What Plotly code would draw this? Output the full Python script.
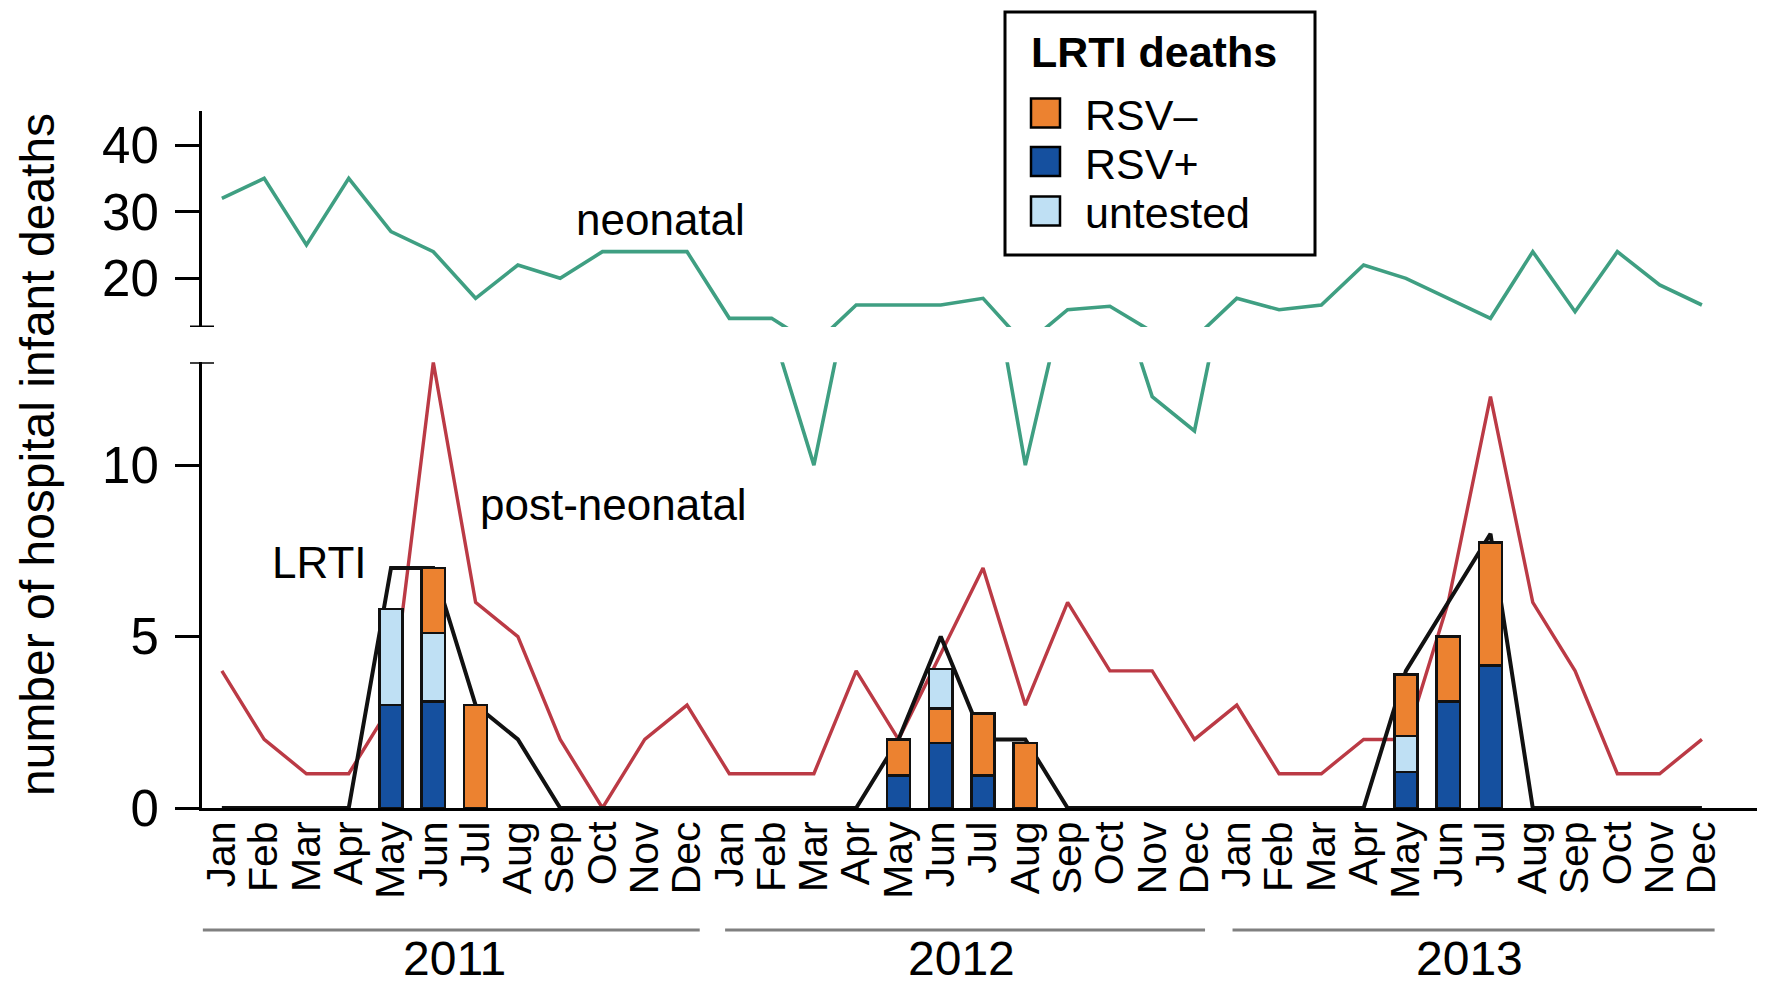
import plotly.graph_objects as go

# monthly data, Jan 2011 .. Dec 2013
month_names = ["Jan", "Feb", "Mar", "Apr", "May", "Jun",
               "Jul", "Aug", "Sep", "Oct", "Nov", "Dec"]
years = [2011, 2012, 2013]

neonatal = [32, 35, 25, 35, 27, 24, 17, 22, 20, 24, 24, 24,
            14, 14, 10, 16, 16, 16, 17, 10, 15.3, 15.8, 12, 11,
            17, 15.3, 16, 22, 20, 17, 14, 24, 15, 24, 19, 16]

post_neonatal = [4, 2, 1, 1, 3, 13, 6, 5, 2, 0, 2, 3,
                 1, 1, 1, 4, 2, 4.5, 7, 3, 6, 4, 4, 2,
                 3, 1, 1, 2, 2, 6, 12, 6, 4, 1, 1, 2]

lrti = [0, 0, 0, 0, 7, 7, 3, 2, 0, 0, 0, 0,
        0, 0, 0, 0, 2, 5, 2, 2, 0, 0, 0, 0,
        0, 0, 0, 0, 4, 6, 8, 0, 0, 0, 0, 0]

# stacked LRTI death bars
rsv_pos = [0, 0, 0, 0, 3.0, 3.1, 0, 0, 0, 0, 0, 0,
           0, 0, 0, 0, 0.95, 1.9, 0.95, 0, 0, 0, 0, 0,
           0, 0, 0, 0, 1.05, 3.1, 4.15, 0, 0, 0, 0, 0]
untested = [0, 0, 0, 0, 2.8, 2.0, 0, 0, 0, 0, 0, 0,
            0, 0, 0, 0, 0, 0, 0, 0, 0, 0, 0, 0,
            0, 0, 0, 0, 1.05, 0, 0, 0, 0, 0, 0, 0]
rsv_neg = [0, 0, 0, 0, 0, 1.9, 3.0, 0, 0, 0, 0, 0,
           0, 0, 0, 0, 1.05, 1.0, 1.8, 1.9, 0, 0, 0, 0,
           0, 0, 0, 0, 1.8, 1.9, 3.6, 0, 0, 0, 0, 0]
untested_top = [0, 0, 0, 0, 0, 0, 0, 0, 0, 0, 0, 0,
                0, 0, 0, 0, 0, 1.15, 0, 0, 0, 0, 0, 0,
                0, 0, 0, 0, 0, 0, 0, 0, 0, 0, 0, 0]

x = list(range(len(neonatal)))
month_labels = month_names * len(years)

GREEN = "#3f9f82"
RED = "#bb3a45"
BLACK = "#111111"
ORANGE = "#ec8230"
DARK_BLUE = "#15509f"
LIGHT_BLUE = "#bfe0f4"
FONT = "Liberation Sans, Arial, sans-serif"

# page geometry (pixels)
W, H = 1765, 987
ML, MR, MT, MB = 194, 3, 103, 187
PW = W - ML - MR
PH = H - MT - MB


def px_x(px):
    return (px - ML) / PW


def px_y(py):
    return (H - MB - py) / PH


def nz(vals):
    return [v if v else None for v in vals]


fig = go.Figure()

# lines (lower panel)
fig.add_trace(go.Scatter(x=x, y=post_neonatal, mode="lines",
                         line=dict(color=RED, width=3.4), xaxis="x", yaxis="y"))
fig.add_trace(go.Scatter(x=x, y=neonatal, mode="lines",
                         line=dict(color=GREEN, width=3.6), xaxis="x", yaxis="y"))
fig.add_trace(go.Scatter(x=x, y=lrti, mode="lines",
                         line=dict(color=BLACK, width=4), xaxis="x", yaxis="y"))
# neonatal in the upper (broken) panel
fig.add_trace(go.Scatter(x=x, y=neonatal, mode="lines",
                         line=dict(color=GREEN, width=3.6), xaxis="x", yaxis="y2"))

# bars on an overlaying axis so they sit above the lines
bar_line = dict(color=BLACK, width=2.5)
for vals, col in [(rsv_pos, DARK_BLUE), (untested, LIGHT_BLUE),
                  (rsv_neg, ORANGE), (untested_top, LIGHT_BLUE)]:
    fig.add_trace(go.Bar(x=x, y=nz(vals), width=0.55,
                         marker=dict(color=col, line=bar_line),
                         xaxis="x", yaxis="y3"))

fig.update_layout(
    width=W, height=H,
    margin=dict(l=ML, r=MR, t=MT, b=MB),
    paper_bgcolor="white", plot_bgcolor="white",
    barmode="stack", showlegend=False,
    font=dict(family=FONT, color="black"),
    xaxis=dict(range=[-0.47, 36.61], anchor="y", showgrid=False, zeroline=False,
               showline=True, linecolor="black", linewidth=3,
               tickmode="array", tickvals=x, ticktext=month_labels,
               tickangle=-90, ticks="", tickfont=dict(size=41, family=FONT),
               ticklabelstandoff=-6),
    yaxis=dict(domain=[0, px_y(354.3)], range=[0, 13], anchor="x",
               showgrid=False, zeroline=False, showline=True,
               linecolor="black", linewidth=3, ticks="outside", ticklen=24,
               tickwidth=3, tickcolor="black", tickvals=[0, 5, 10],
               tickfont=dict(size=51, family=FONT), ticklabelstandoff=6),
    yaxis2=dict(domain=[px_y(319), 1], range=[12.7, 45.1], anchor="x",
                showgrid=False, zeroline=False, showline=True,
                linecolor="black", linewidth=3, ticks="outside", ticklen=24,
                tickwidth=3, tickcolor="black", tickvals=[20, 30, 40],
                tickfont=dict(size=51, family=FONT), ticklabelstandoff=6),
    yaxis3=dict(overlaying="y", range=[0, 13], anchor="x", visible=False),
)

shapes = []
# axis break caps
for yref, yv in [("y", 13), ("y2", 12.7)]:
    shapes.append(dict(type="line", xref="paper", yref=yref,
                       x0=px_x(182), x1=px_x(206), y0=yv, y1=yv,
                       line=dict(color="black", width=3)))
# year brackets
for i, yr in enumerate(years):
    start = i * 12
    shapes.append(dict(type="line", xref="x", yref="paper",
                       x0=start - 0.45 + (0.35 if i else 0), x1=start + 11.3 - (0.05 if i == 1 else 0),
                       y0=px_y(922), y1=px_y(922),
                       line=dict(color="#808080", width=3)))
# legend box
shapes.append(dict(type="rect", xref="paper", yref="paper",
                   x0=px_x(997), x1=px_x(1307), y0=px_y(247), y1=px_y(4),
                   line=dict(color="black", width=3), fillcolor="white"))
legend_items = [("RSV–", ORANGE), ("RSV+", DARK_BLUE), ("untested", LIGHT_BLUE)]
legend_y = [105, 153.5, 203]
annotations = []
for (name, col), cy in zip(legend_items, legend_y):
    shapes.append(dict(type="rect", xref="paper", yref="paper",
                       x0=px_x(1023), x1=px_x(1052),
                       y0=px_y(cy + 14.5), y1=px_y(cy - 14.5),
                       line=dict(color="black", width=2.5), fillcolor=col))
    annotations.append(dict(text=name, xref="paper", yref="paper",
                            x=px_x(1075), y=px_y(cy + 2), xanchor="left",
                            yanchor="middle", showarrow=False,
                            font=dict(size=43, family=FONT)))
annotations.append(dict(text="<b>LRTI deaths</b>", xref="paper", yref="paper",
                        x=px_x(1021), y=px_y(44), xanchor="left", yanchor="middle",
                        showarrow=False, font=dict(size=43, family=FONT)))

# series labels
annotations += [
    dict(text="neonatal", x=10.38, y=28.8, xref="x", yref="y2", showarrow=False,
         xanchor="center", font=dict(size=44, family=FONT)),
    dict(text="post-neonatal", x=9.26, y=8.85, xref="x", yref="y", showarrow=False,
         xanchor="center", font=dict(size=44, family=FONT)),
    dict(text="LRTI", x=2.32, y=7.15, xref="x", yref="y", showarrow=False,
         xanchor="center", font=dict(size=44, family=FONT)),
]
# year labels
for i, yr in enumerate(years):
    annotations.append(dict(text=str(yr), x=i * 12 + 5.5, y=px_y(950),
                            xref="x", yref="paper", showarrow=False,
                            xanchor="center", yanchor="middle",
                            font=dict(size=48, family=FONT)))
# y axis title
annotations.append(dict(text="number of hospital infant deaths", textangle=-90,
                        x=px_x(29), y=px_y(447), xref="paper", yref="paper",
                        xanchor="center", yanchor="middle",
                        showarrow=False, font=dict(size=48, family=FONT)))

fig.update_layout(shapes=shapes, annotations=annotations)

fig.write_html("out.html")
